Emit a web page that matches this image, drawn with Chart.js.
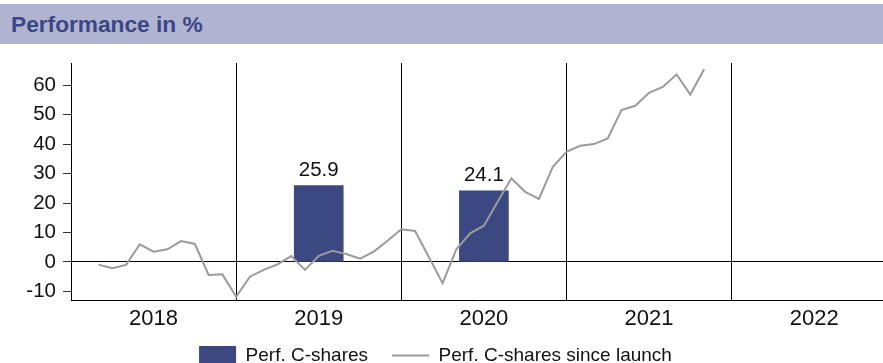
<!DOCTYPE html>
<html>
<head>
<meta charset="utf-8">
<script src="https://cdn.jsdelivr.net/npm/chart.js@4"></script>
<style>
  html, body { margin: 0; padding: 0; background: #fff; overflow: hidden; }
  #title {
    position: absolute; top: 4px; left: 0; width: 883px; height: 40px;
    padding-left: 11px; box-sizing: border-box;
    background: #b0b4d1; color: #3b4687;
    font: bold 22.7px "Liberation Sans", Arial, sans-serif;
    line-height: 41px;
  }
  #wrap { position: absolute; top: 0; left: 0; width: 883px; height: 389px; }
</style>
</head>
<body>
<div id="title">Performance in %</div>
<div id="wrap"><canvas id="perfChart"></canvas></div>
<script>
// Years along the bottom axis
const years = ["2018", "2019", "2020", "2021", "2022"];

// Calendar-year performance of the C-shares
const barYears = ["2019", "2020"];
const barValues = [25.9, 24.1];

// Cumulative performance since launch, month-end values from Feb 2018
const lineStartMonth = 2; // months after the start of 2018
const lineValues = [
  -0.9, -2.1, -1.0, 6.0, 3.5, 4.3, 7.1, 6.1, -4.4, -4.2, -11.8,          // 2018
  -5.0, -2.7, -0.8, 2.0, -2.7, 2.1, 3.8, 2.7, 1.1, 3.5, 7.2, 11.1,       // 2019
  10.5, 1.7, -7.2, 4.3, 9.7, 12.3, 20.4, 28.4, 23.8, 21.4, 32.2, 37.4,   // 2020
  39.4, 40.0, 41.9, 51.5, 53.0, 57.4, 59.4, 63.6, 56.8, 65.4             // 2021
];

const yTicks = [-10, 0, 10, 20, 30, 40, 50, 60];

const font = '"Liberation Sans", Arial, sans-serif';
const barColor = "#3c4881";
const lineColor = "#9b9b9b";

// bars sit in the middle of their year, line points at month ends
const barPoints = barYears.map((y, i) => ({ x: years.indexOf(y) * 12 + 6, y: barValues[i] }));
const linePoints = lineValues.map((v, i) => ({ x: lineStartMonth + i, y: v }));

// value labels above the bars
const barLabels = {
  id: "barLabels",
  afterDatasetsDraw(chart) {
    const ctx = chart.ctx;
    const meta = chart.getDatasetMeta(0);
    ctx.save();
    ctx.font = "20.5px " + font;
    ctx.fillStyle = "#111";
    ctx.textAlign = "center";
    ctx.textBaseline = "bottom";
    meta.data.forEach((bar, i) => {
      ctx.fillText(barValues[i].toFixed(1), bar.x, bar.y - 5);
    });
    ctx.restore();
  }
};

// pull the legend up a little, closer to the year labels
const legendShift = {
  id: "legendShift",
  afterLayout(chart) {
    chart.legend.top -= 14;
    chart.legend.bottom -= 14;
    chart.legend.left -= 6;
    chart.legend.right -= 6;
  }
};

new Chart(document.getElementById("perfChart"), {
  type: "bar",
  data: {
    datasets: [
      {
        type: "bar",
        label: "Perf. C-shares",
        data: barPoints,
        backgroundColor: barColor,
        barThickness: 49,
        pointStyle: "rect",
        order: 1
      },
      {
        type: "line",
        label: "Perf. C-shares since launch",
        data: linePoints,
        borderColor: lineColor,
        backgroundColor: lineColor,
        borderWidth: 2,
        pointRadius: 0,
        tension: 0,
        pointStyle: "line",
        order: 0
      }
    ]
  },
  options: {
    responsive: true,
    maintainAspectRatio: false,
    animation: false,
    layout: { padding: { top: 63, left: 0, right: 0, bottom: 0 } },
    plugins: {
      tooltip: { enabled: false },
      legend: {
        position: "bottom",
        labels: {
          usePointStyle: true,
          pointStyleWidth: 37,
          padding: 24,
          color: "#111",
          font: { family: font, size: 19 },
          sort: (a, b) => a.datasetIndex - b.datasetIndex
        }
      }
    },
    scales: {
      x: {
        type: "linear",
        min: 0,
        max: 59,
        offset: false,
        afterBuildTicks: scale => {
          scale.ticks = [];
          for (let m = 0; m <= 54; m += 6) scale.ticks.push({ value: m });
        },
        afterFit: scale => { scale.height = 36; },
        ticks: {
          autoSkip: false,
          maxRotation: 0,
          padding: 6,
          color: "#111",
          font: { family: font, size: 22 },
          callback: v => (v % 12 === 6 ? years[(v - 6) / 12] : "")
        },
        grid: {
          offset: false,
          drawTicks: false,
          lineWidth: 1,
          color: c => (c.tick && c.tick.value % 12 === 0 && c.tick.value > 0 ? "#000" : "rgba(0,0,0,0)")
        },
        border: { display: true, color: "#000", width: 1 }
      },
      y: {
        min: -12.9,
        max: 67.5,
        afterBuildTicks: scale => { scale.ticks = yTicks.map(v => ({ value: v })); },
        afterFit: scale => { scale.width = 71; },
        ticks: {
          padding: 7,
          color: "#111",
          font: { family: font, size: 20.5 }
        },
        grid: {
          tickLength: 8,
          tickColor: "#333",
          color: c => (c.tick && c.tick.value === 0 ? "#000" : "rgba(0,0,0,0)")
        },
        border: { display: true, color: "#000", width: 1 }
      }
    }
  },
  plugins: [barLabels, legendShift]
});
</script>
</body>
</html>
